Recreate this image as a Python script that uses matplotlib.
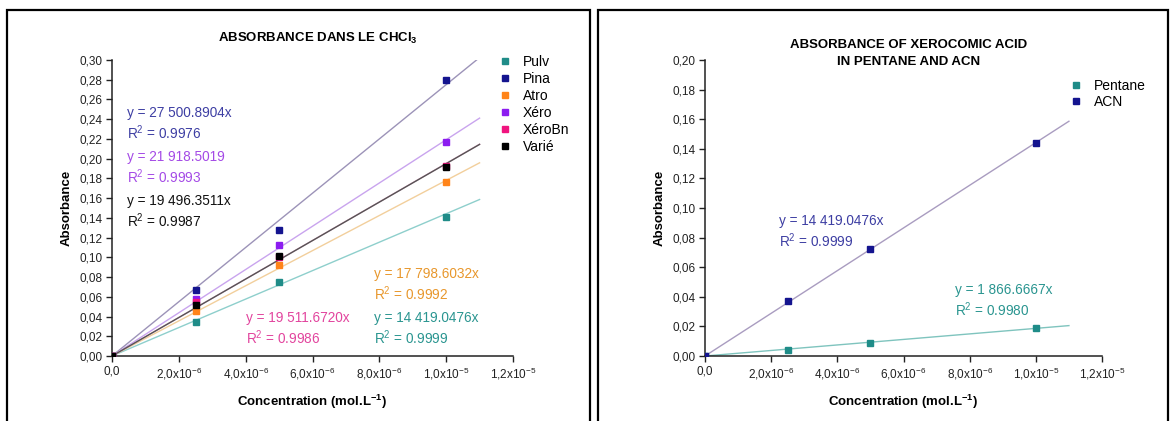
import matplotlib
matplotlib.use("Agg")
import matplotlib.pyplot as plt
import numpy as np
from matplotlib.patches import Rectangle

plt.rcParams["font.family"] = ["Liberation Sans", "DejaVu Sans"]
plt.rcParams["mathtext.default"] = "regular"

## Data
conc = [0, 2.5e-6, 5e-6, 1e-5]
fit_end = 1.1e-5

chcl3_names = ["Pulv", "Pina", "Atro", "Xéro", "XéroBn", "Varié"]
chcl3_values = {
    "Pulv": [0, 0.034, 0.075, 0.141],
    "Pina": [0, 0.067, 0.128, 0.280],
    "Atro": [0, 0.046, 0.092, 0.176],
    "Xéro": [0, 0.058, 0.113, 0.217],
    "XéroBn": [0, 0.055, 0.100, 0.193],
    "Varié": [0, 0.052, 0.101, 0.192],
}
chcl3_slopes = {
    "Pulv": 14419.0476,
    "Pina": 27500.8904,
    "Atro": 17798.6032,
    "Xéro": 21918.5019,
    "XéroBn": 19511.6720,
    "Varié": 19496.3511,
}
chcl3_r2 = {
    "Pulv": "0.9999",
    "Pina": "0.9976",
    "Atro": "0.9992",
    "Xéro": "0.9993",
    "XéroBn": "0.9986",
    "Varié": "0.9987",
}
chcl3_eq = {
    "Pulv": "y = 14 419.0476x",
    "Pina": "y = 27 500.8904x",
    "Atro": "y = 17 798.6032x",
    "Xéro": "y = 21 918.5019",
    "XéroBn": "y = 19 511.6720x",
    "Varié": "y = 19 496.3511x",
}

solv_names = ["Pentane", "ACN"]
solv_values = {
    "Pentane": [0, 0.004, 0.009, 0.019],
    "ACN": [0, 0.037, 0.072, 0.144],
}
solv_slopes = {"Pentane": 1866.6667, "ACN": 14419.0476}
solv_r2 = {"Pentane": "0.9980", "ACN": "0.9999"}
solv_eq = {"Pentane": "y = 1 866.6667x", "ACN": "y = 14 419.0476x"}

x_ticks = [0, 2e-6, 4e-6, 6e-6, 8e-6, 1e-5, 1.2e-5]
x_ticklabels = ["0,0", "2,0x10$^{-6}$", "4,0x10$^{-6}$", "6,0x10$^{-6}$",
                "8,0x10$^{-6}$", "1,0x10$^{-5}$", "1,2x10$^{-5}$"]

## Styles
marker_col = {"Pulv": "#1f8c88", "Pina": "#14148f", "Atro": "#ff8419",
              "Xéro": "#8c1cf0", "XéroBn": "#f0147f", "Varié": "#000000",
              "Pentane": "#1f8c88", "ACN": "#14148f"}
line_col = {"Pulv": "#8ecfcc", "Pina": "#9c93b8", "Atro": "#f2cf9c",
            "Xéro": "#c9a4ee", "XéroBn": "#e9a0c6", "Varié": "#555555",
            "Pentane": "#7fc4be", "ACN": "#a99cc0"}
text_col = {"Pulv": "#2a9590", "Pina": "#3d3ea3", "Atro": "#e8972c",
            "Xéro": "#a44ae6", "XéroBn": "#e2459e", "Varié": "#111111",
            "Pentane": "#2a9590", "ACN": "#3d3ea3"}

W, H = 1171, 421
fig = plt.figure(figsize=(W / 100, H / 100), dpi=100)

# panel frames
fig.patches.append(Rectangle((7 / W, -0.05), 583 / W, 1 - 10 / H + 0.05,
                             transform=fig.transFigure, fill=False,
                             edgecolor="black", linewidth=1.6))
fig.patches.append(Rectangle((598 / W, -0.05), 570 / W, 1 - 10 / H + 0.05,
                             transform=fig.transFigure, fill=False,
                             edgecolor="black", linewidth=1.6))


def style_axes(ax, ymax, ystep):
    ax.set_xlim(0, 1.2e-5)
    ax.set_ylim(0, ymax)
    for s in ["top", "right"]:
        ax.spines[s].set_visible(False)
    for s in ["left", "bottom"]:
        ax.spines[s].set_linewidth(1.1)
        ax.spines[s].set_color("#222222")
    ax.set_xticks(x_ticks)
    ax.set_xticklabels(x_ticklabels)
    yt = np.round(np.arange(0, ymax + ystep / 2, ystep), 2)
    ax.set_yticks(yt)
    ax.set_yticklabels(["{:.2f}".format(v).replace(".", ",") for v in yt])
    ax.tick_params(direction="out", length=4, width=1, labelsize=8.5,
                   colors="#222222", pad=3)
    ax.set_ylabel("Absorbance", fontsize=9.5, fontweight="bold", labelpad=5)
    ax.set_xlabel("Concentration (mol.L$^{-1}$)", fontsize=9.5,
                  fontweight="bold", labelpad=8)
    ax.patch.set_alpha(0)


## Left panel
ax1 = fig.add_axes([112 / W, 1 - 356 / H, 401 / W, 296 / H])
xs = np.array([0, fit_end])
for name in chcl3_names:
    ax1.plot(xs, chcl3_slopes[name] * xs, color=line_col[name], lw=1, zorder=1)
for name in chcl3_names:
    ax1.plot(conc, chcl3_values[name], "s", color=marker_col[name],
             markersize=4.3, linestyle="none", label=name, zorder=3)
style_axes(ax1, 0.30, 0.02)
fig.text(318 / W, 1 - 38 / H, "ABSORBANCE DANS LE CHCl$_3$", fontsize=9.5,
         fontweight="bold", ha="center", va="center")
ax1.legend(loc="upper left", bbox_to_anchor=(0.955, 1.035), frameon=False,
           fontsize=10, handlelength=0.6, handletextpad=1.0, labelspacing=0.21,
           borderaxespad=0)

# equation labels (pixel positions from reference)
eq_pos1 = {"Pina": (127, 113), "Xéro": (127, 157), "Varié": (127, 201),
           "Atro": (374, 274), "XéroBn": (246, 318), "Pulv": (374, 318)}
for name, (px, py) in eq_pos1.items():
    fig.text(px / W, 1 - py / H, chcl3_eq[name], color=text_col[name],
             fontsize=9.8, va="center", ha="left")
    fig.text(px / W, 1 - (py + 20) / H, "R$^2$ = " + chcl3_r2[name],
             color=text_col[name], fontsize=9.8, va="center", ha="left")

## Right panel
ax2 = fig.add_axes([705 / W, 1 - 356 / H, 397 / W, 296 / H])
for name in solv_names:
    ax2.plot(xs, solv_slopes[name] * xs, color=line_col[name], lw=1, zorder=1)
for name in solv_names:
    ax2.plot(conc, solv_values[name], "s", color=marker_col[name],
             markersize=4.3, linestyle="none", label=name, zorder=3)
style_axes(ax2, 0.20, 0.02)
fig.text(909 / W, 1 - 45 / H, "ABSORBANCE OF XEROCOMIC ACID", fontsize=9.5,
         fontweight="bold", ha="center", va="center")
fig.text(909 / W, 1 - 62 / H, "IN PENTANE AND ACN", fontsize=9.5,
         fontweight="bold", ha="center", va="center")
ax2.legend(loc="upper left", bbox_to_anchor=(0.91, 0.955), frameon=False,
           fontsize=10, handlelength=0.6, handletextpad=1.0, labelspacing=0.13,
           borderaxespad=0)

eq_pos2 = {"ACN": (779, 221), "Pentane": (955, 290)}
for name, (px, py) in eq_pos2.items():
    fig.text(px / W, 1 - py / H, solv_eq[name], color=text_col[name],
             fontsize=9.8, va="center", ha="left")
    fig.text(px / W, 1 - (py + 20) / H, "R$^2$ = " + solv_r2[name],
             color=text_col[name], fontsize=9.8, va="center", ha="left")

fig.savefig("out.png", dpi=100)
